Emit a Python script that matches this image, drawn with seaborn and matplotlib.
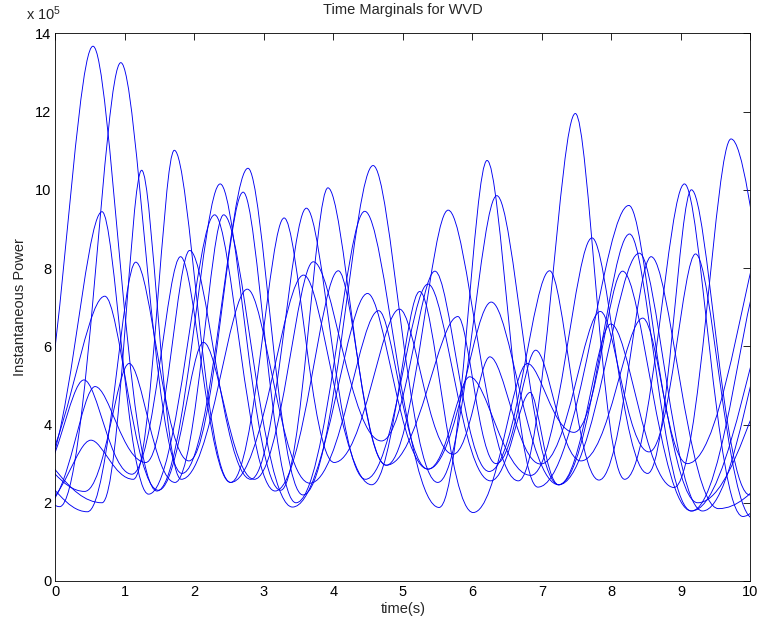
import matplotlib
matplotlib.use("Agg")
import matplotlib.pyplot as plt
import seaborn as sns
from matplotlib.path import Path
from matplotlib.patches import PathPatch

# ---- data: extrema (time in s, power in 1e5 units) of each marginal curve ----
c1_t = [-0.34, 0.41, 1.10, 1.80, 2.52, 3.57, 4.55, 5.24, 6.01, 6.79, 7.46, 8.16, 9.15, 10.44]
c1_v = [2.4, 5.14, 2.73, 8.29, 2.52, 7.82, 2.46, 7.40, 1.75, 5.56, 3.80, 7.92, 1.79, 7.5]
c2_t = [-0.43, 0.54, 1.46, 2.37, 3.24, 3.92, 4.76, 5.65, 6.66, 7.48, 8.19, 9.05, 9.89, 10.64]
c2_v = [2.5, 13.67, 2.3, 10.15, 2.32, 10.05, 2.96, 9.48, 2.56, 11.95, 2.6, 10.15, 1.65, 4.0]
c3_t = [-0.14, 0.57, 1.30, 1.93, 2.81, 3.61, 4.46, 5.36, 6.26, 6.83, 7.24, 8.40, 9.31, 10.39]
c3_v = [1.95, 4.97, 3.03, 8.45, 2.60, 9.53, 2.6, 7.59, 2.56, 4.82, 2.46, 8.38, 1.79, 7.0]
c4_t = [-0.24, 0.67, 1.34, 2.29, 3.16, 4.07, 4.76, 5.79, 6.34, 6.91, 7.56, 8.45, 9.24, 10.44]
c4_v = [2.6, 9.44, 2.22, 9.36, 2.3, 7.93, 2.96, 6.76, 3.0, 5.90, 3.07, 6.72, 2.0, 5.5]
c5_t = [-0.39, 0.71, 1.48, 2.13, 2.86, 3.71, 4.69, 5.46, 6.24, 7.11, 7.82, 8.57, 9.54, 10.74]
c5_v = [2.5, 7.28, 2.32, 6.10, 2.6, 8.16, 3.58, 7.92, 2.8, 7.93, 2.58, 8.29, 1.85, 3.5]
c6_t = [-0.54, 0.06, 0.94, 1.82, 2.77, 3.56, 4.57, 5.50, 6.35, 7.24, 8.26, 9.15, 10.24]
c6_v = [3.5, 1.9, 13.25, 2.75, 10.55, 2.2, 10.62, 2.52, 9.85, 2.46, 8.87, 1.79, 8.3]
c7_t = [-0.34, 0.42, 1.06, 1.72, 2.42, 3.41, 4.49, 5.36, 5.96, 6.84, 7.72, 8.52, 9.15, 9.99, 10.74]
c7_v = [3.2, 2.29, 5.56, 2.52, 9.36, 1.89, 7.35, 2.86, 5.22, 2.7, 8.77, 2.75, 10.0, 2.2, 5.0]
c8_t = [-0.24, 0.46, 1.155, 1.92, 2.70, 3.46, 4.45, 5.52, 6.21, 6.94, 8.25, 9.09, 10.34]
c8_v = [2.6, 1.77, 8.15, 3.07, 9.94, 2.0, 9.45, 1.88, 10.75, 2.4, 9.6, 3.0, 9.5]
c9_t = [-0.44, 0.67, 1.24, 1.81, 2.76, 3.66, 4.65, 5.36, 6.27, 7.24, 7.99, 8.90, 9.72, 10.9]
c9_v = [3.5, 2.0, 10.5, 2.6, 7.46, 2.5, 6.91, 2.86, 7.13, 2.46, 6.57, 2.39, 11.3, 2.5]
c10_t = [-0.24, 0.51, 1.12, 1.71, 2.52, 3.29, 4.01, 4.95, 5.72, 6.25, 6.98, 7.84, 8.54, 9.21, 10.04, 10.74]
c10_v = [1.9, 3.6, 2.6, 11.01, 2.52, 9.28, 3.03, 6.95, 3.24, 5.73, 2.99, 6.89, 3.3, 8.36, 1.6, 4.0]

x_ticks = [0, 1, 2, 3, 4, 5, 6, 7, 8, 9, 10]
y_ticks = [0, 2, 4, 6, 8, 10, 12, 14]
title = "Time Marginals for WVD"
x_label = "time(s)"
y_label = "Instantaneous Power"
scale_label = r"x 10$^{5}$"

curves = [(c1_t, c1_v), (c2_t, c2_v), (c3_t, c3_v), (c4_t, c4_v), (c5_t, c5_v),
          (c6_t, c6_v), (c7_t, c7_v), (c8_t, c8_v), (c9_t, c9_v), (c10_t, c10_v)]

sns.set_style("white", rc={"xtick.direction": "in", "ytick.direction": "in"})
plt.rcParams["font.family"] = ["Liberation Sans", "DejaVu Sans"]
plt.rcParams["mathtext.fontset"] = "custom"
plt.rcParams["mathtext.rm"] = "Liberation Sans"
plt.rcParams["mathtext.it"] = "Liberation Sans"

fig = plt.figure(figsize=(7.63, 6.25), dpi=100)
ax = fig.add_axes([0.0727, 0.0704, 0.9109, 0.8763])

# smooth curve through successive extrema (horizontal tangent at each extremum);
# peaks are drawn a little sharper than troughs, as in the reference
for ts, vs in curves:
    verts = [(ts[0], vs[0])]
    codes = [Path.MOVETO]
    for i in range(len(ts) - 1):
        t0, v0, t1, v1 = ts[i], vs[i], ts[i + 1], vs[i + 1]
        d = t1 - t0
        h0 = 0.27 if v0 > v1 else 0.45
        h1 = 0.27 if v1 > v0 else 0.45
        verts += [(t0 + h0 * d, v0), (t1 - h1 * d, v1), (t1, v1)]
        codes += [Path.CURVE4] * 3
    patch = PathPatch(Path(verts, codes), facecolor="none", edgecolor=(0, 0, 0.95),
                      linewidth=0.65, transform=ax.transData)
    ax.add_patch(patch)

ax.set_xlim(0, 10)
ax.set_ylim(0, 14)
ax.set_xticks(x_ticks)
ax.set_yticks(y_ticks)
ax.tick_params(axis="both", which="both", direction="in", length=5, width=0.6,
               colors="black", labelsize=10.5, top=True, right=True, pad=3)
for s in ax.spines.values():
    s.set_color("black")
    s.set_linewidth(0.6)
    s.set_visible(True)
ax.set_title(title, fontsize=10.5, pad=14)
ax.set_xlabel(x_label, fontsize=10.5, labelpad=2)
ax.set_ylabel(y_label, fontsize=10.5, labelpad=6)
ax.text(-0.042, 1.018, scale_label, transform=ax.transAxes, fontsize=10.5,
        ha="left", va="bottom")

fig.savefig("out.png", dpi=100, facecolor="white")
